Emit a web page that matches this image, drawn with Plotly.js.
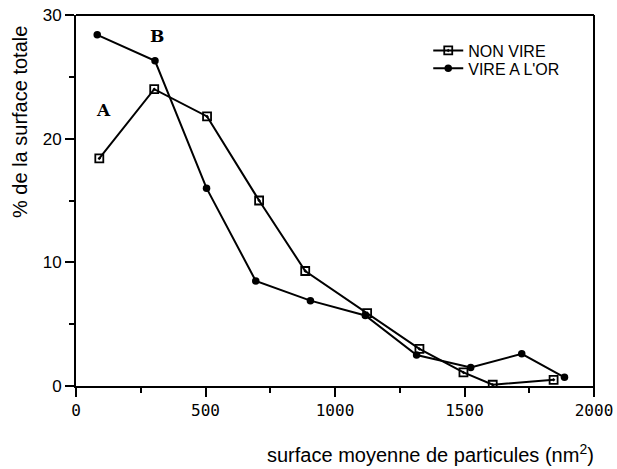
<!DOCTYPE html>
<html><head><meta charset="utf-8">
<script src="https://cdn.plot.ly/plotly-3.0.1.min.js"></script>
<style>html,body{margin:0;padding:0;background:#fff}#c{width:617px;height:469px}</style>
</head><body><div id="c"></div>
<script>
const nonVireX = [90, 302, 506, 707, 885, 1124, 1326, 1496, 1609, 1844];
const nonVireY = [18.4, 24.0, 21.8, 15.0, 9.3, 5.9, 3.0, 1.1, 0.1, 0.5];
const vireX = [82, 305, 504, 694, 905, 1117, 1315, 1524, 1721, 1886];
const vireY = [28.4, 26.3, 16.0, 8.5, 6.9, 5.7, 2.5, 1.5, 2.6, 0.7];
const seriesNames = ['NON VIRE', "VIRE A L'OR"];
const xRange = [0, 2000];
const yRange = [0, 30];

const traces = [
  {x: nonVireX, y: nonVireY, name: seriesNames[0], mode: 'lines+markers', legend: 'legend',
   line: {color: '#000', width: 2},
   marker: {symbol: 'square-open-dot', size: 8, color: '#000', line: {width: 1.8, color: '#000'}}},
  {x: vireX, y: vireY, name: seriesNames[1], mode: 'lines+markers', legend: 'legend2',
   line: {color: '#000', width: 2},
   marker: {symbol: 'circle', size: 7.5, color: '#000'}}
];

const legFont = {family: 'Liberation Sans, Arial', size: 16, color: '#000'};
const layout = {
  width: 617, height: 469,
  margin: {l: 76, r: 23, t: 15, b: 83},
  paper_bgcolor: '#fff', plot_bgcolor: '#fff',
  showlegend: true,
  legend: {x: 0.68, y: 0.95, xanchor: 'left', yanchor: 'top', bgcolor: 'rgba(0,0,0,0)', font: legFont},
  legend2: {x: 0.68, y: 0.902, xanchor: 'left', yanchor: 'top', bgcolor: 'rgba(0,0,0,0)', font: legFont},
  xaxis: {range: xRange, dtick: 500,
    showgrid: false, zeroline: false, showline: true, linecolor: '#000', linewidth: 2,
    ticks: 'outside', ticklen: 9, tickwidth: 2, tickcolor: '#000',
    minor: {dtick: 250, ticks: 'outside', ticklen: 5, tickwidth: 2, tickcolor: '#000', showgrid: false},
    tickfont: {family: 'DejaVu Sans Mono, monospace', size: 16, color: '#000'}},
  yaxis: {range: yRange, dtick: 10,
    showgrid: false, zeroline: false, showline: true, linecolor: '#000', linewidth: 2,
    ticks: 'outside', ticklen: 9, tickwidth: 2, tickcolor: '#000',
    minor: {dtick: 5, ticks: 'outside', ticklen: 5, tickwidth: 2, tickcolor: '#000', showgrid: false},
    tickfont: {family: 'Liberation Sans, Arial', size: 17, color: '#000'}},
  shapes: [
    {type: 'line', xref: 'paper', yref: 'paper', x0: 0, x1: 1, y0: 1, y1: 1, line: {color: '#000', width: 2}},
    {type: 'line', xref: 'paper', yref: 'paper', x0: 1, x1: 1, y0: -0.025, y1: 1, line: {color: '#000', width: 2}}
  ],
  annotations: [
    {text: '<b>A</b>', x: 105, y: 22.3, xref: 'x', yref: 'y', showarrow: false,
     font: {family: 'DejaVu Serif', size: 17, color: '#000'}},
    {text: '<b>B</b>', x: 312, y: 28.3, xref: 'x', yref: 'y', showarrow: false,
     font: {family: 'DejaVu Serif', size: 17, color: '#000'}},
    {text: 'surface moyenne de particules (nm<sup>2</sup>)', x: 0.5, y: 0, xref: 'paper', yref: 'paper',
     xanchor: 'center', yanchor: 'middle',
     showarrow: false, font: {family: 'Liberation Sans, Arial', size: 20, color: '#000'}},
    {text: '% de la surface totale', textangle: -90, x: 0, y: 0, xref: 'paper', yref: 'paper',
     xanchor: 'center', yanchor: 'middle',
     showarrow: false, font: {family: 'Liberation Sans, Arial', size: 20, color: '#000'}}
  ]
};
const pw = 617 - 76 - 23, ph = 469 - 15 - 83;
layout.annotations[2].x = (430 - 76) / pw;
layout.annotations[2].y = (469 - 83 - 453) / ph;
layout.annotations[3].x = (20 - 76) / pw;
layout.annotations[3].y = (469 - 83 - 122) / ph;
Plotly.newPlot('c', traces, layout, {displayModeBar: false, staticPlot: true});
</script></body></html>
